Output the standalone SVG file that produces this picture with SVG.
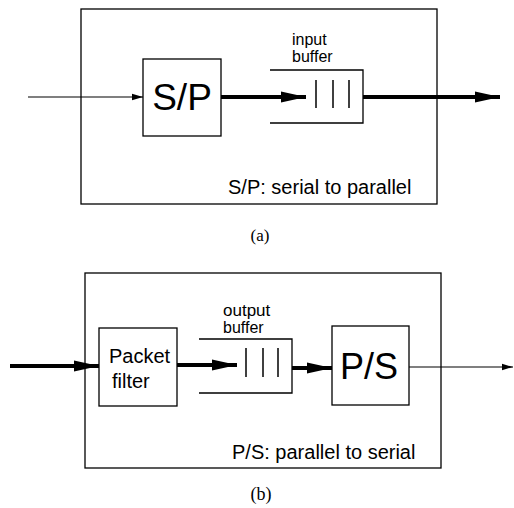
<svg xmlns="http://www.w3.org/2000/svg" width="514" height="508" viewBox="0 0 514 508">
<style>
.box{fill:none;stroke:#000;stroke-width:1.3}
.buf{fill:none;stroke:#000;stroke-width:1.3}
.bar{stroke:#000;stroke-width:1.5}
.thick{stroke:#000;stroke-width:4;fill:none}
.thin{stroke:#000;stroke-width:1.2;fill:none}
.sans{font-family:"Liberation Sans",Arial,sans-serif;fill:#000}
.lbl{font-size:16px}
.serif{font-family:"Liberation Serif","Times New Roman",serif;fill:#000}
</style>
<defs>
<marker id="ah" markerUnits="userSpaceOnUse" markerWidth="26" markerHeight="12" refX="25" refY="6" orient="auto" viewBox="0 0 26 12">
<path d="M0,0.5 L25,6 L0,11.5 Z" fill="#000"/>
</marker>
<marker id="ahs" markerUnits="userSpaceOnUse" markerWidth="12" markerHeight="8" refX="11" refY="4" orient="auto" viewBox="0 0 12 8">
<path d="M0,0.8 L11,4 L0,7.2 Z" fill="#000"/>
</marker>
</defs>

<!-- (a) -->
<g id="frame-a"><rect class="box" x="81" y="9" width="356" height="195"/></g>
<g id="sp"><rect class="box" x="143" y="59" width="78" height="77"/><text class="sans" x="182" y="110" font-size="37" text-anchor="middle">S/P</text></g>
<g id="input-buffer">
<path class="buf" d="M270,70 H363 V123 H270"/>
<line class="bar" x1="316" y1="80" x2="316" y2="108"/>
<line class="bar" x1="333" y1="80" x2="333" y2="108"/>
<line class="bar" x1="349" y1="80" x2="349" y2="108"/>
<text class="sans lbl" x="292" y="45">input</text>
<text class="sans lbl" x="292" y="62">buffer</text>
</g>
<g id="note-a"><text class="sans" x="228" y="194" font-size="20">S/P: serial to parallel</text></g>
<text class="serif" x="260" y="241" font-size="17" text-anchor="middle">(a)</text>

<!-- (b) -->
<g id="frame-b"><rect class="box" x="85" y="273" width="356" height="195"/></g>
<g id="packet-filter"><rect class="box" x="99" y="328" width="78" height="78"/><text class="sans" x="109" y="363" font-size="20">Packet</text><text class="sans" x="112" y="388" font-size="20">filter</text></g>
<g id="output-buffer">
<path class="buf" d="M199,339 H292 V393 H199"/>
<line class="bar" x1="246" y1="348" x2="246" y2="377"/>
<line class="bar" x1="263" y1="348" x2="263" y2="377"/>
<line class="bar" x1="278" y1="348" x2="278" y2="377"/>
<text class="sans" x="223" y="316" font-size="17">output</text>
<text class="sans lbl" x="223" y="333">buffer</text>
</g>
<g id="ps"><rect class="box" x="332" y="326" width="77" height="79"/><text class="sans" x="369" y="379" font-size="36" text-anchor="middle">P/S</text></g>
<g id="note-b"><text class="sans" x="232" y="459" font-size="20">P/S: parallel to serial</text></g>
<text class="serif" x="261" y="500" font-size="18" text-anchor="middle">(b)</text>

<g id="connectors">
<line class="thin" x1="28" y1="97" x2="143" y2="97" marker-end="url(#ahs)"/>
<line class="thick" x1="221" y1="97" x2="306" y2="97" marker-end="url(#ah)"/>
<line class="thick" x1="363" y1="97" x2="500" y2="97" marker-end="url(#ah)"/>
<line class="thick" x1="10" y1="366" x2="99" y2="366" marker-end="url(#ah)"/>
<line class="thick" x1="177" y1="365" x2="237" y2="365" marker-end="url(#ah)"/>
<line class="thick" x1="292" y1="368" x2="332" y2="368" marker-end="url(#ah)"/>
<line class="thin" x1="409" y1="367" x2="513" y2="367" marker-end="url(#ahs)"/>
</g>
</svg>
